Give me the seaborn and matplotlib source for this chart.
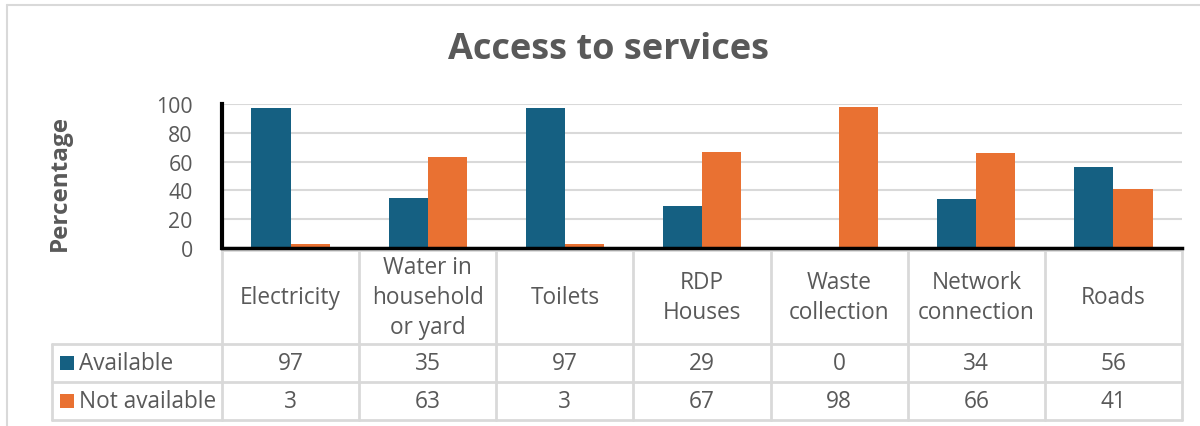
import numpy as np
import pandas as pd
import matplotlib
matplotlib.use("Agg")
import matplotlib.pyplot as plt
import seaborn as sns

# Data
services = ["Electricity", "Water in\nhousehold\nor yard", "Toilets", "RDP\nHouses",
            "Waste\ncollection", "Network\nconnection", "Roads"]
series_names = ["Available", "Not available"]
available = [97, 35, 97, 29, 0, 34, 56]
not_available = [3, 63, 3, 67, 98, 66, 41]
y_ticks = [0, 20, 40, 60, 80, 100]

BLUE = "#156082"
ORANGE = "#E97132"
TEXT = "#595959"
GRID = "#D9D9D9"
FS = 16.3

sns.set_theme(style="white")
plt.rcParams["font.family"] = ["Open Sans", "DejaVu Sans"]

W, H = 1200, 427
fig = plt.figure(figsize=(W / 100, H / 100), dpi=100)

# Full-figure overlay in pixel coordinates for the frame and data table
ov = fig.add_axes([0, 0, 1, 1], zorder=0)
ov.set_xlim(0, W)
ov.set_ylim(H, 0)
ov.axis("off")

# Plot area geometry (pixels)
px_left, px_right, px_top, px_bottom = 222, 1182, 105, 249
ax = fig.add_axes([px_left / W, 1 - px_bottom / H, (px_right - px_left) / W,
                   (px_bottom - px_top) / H], zorder=2)
ax.patch.set_alpha(0)

df = pd.DataFrame({
    "service": services * 2,
    "series": [series_names[0]] * len(services) + [series_names[1]] * len(services),
    "value": available + not_available,
})

sns.barplot(data=df, x="service", y="value", hue="series", order=services,
            hue_order=series_names, palette=[BLUE, ORANGE], width=0.57,
            saturation=1, ax=ax, legend=False, edgecolor="none")

ax.set_xlim(-0.5, len(services) - 0.5)
ax.set_ylim(0, 100)
ax.set_yticks(y_ticks)
ax.set_yticklabels([str(t) for t in y_ticks], color=TEXT, fontsize=15.3)
ax.tick_params(axis="y", length=0, pad=21)
ax.set_xticks([])
ax.set_xlabel("")
ax.set_ylabel("")
ax.yaxis.grid(True, color=GRID, linewidth=1.5)
ax.set_axisbelow(True)
for s in ["top", "right"]:
    ax.spines[s].set_visible(False)
ax.spines["left"].set_color("black")
ax.spines["left"].set_linewidth(3)
ax.spines["bottom"].set_color("black")
ax.spines["bottom"].set_linewidth(2.5)

# Title and y label
fig.text(608 / W, 1 - 50 / H, "Access to services", ha="center", va="center",
         fontsize=26, fontweight="bold", color=TEXT)
fig.text(60 / W, 1 - 183 / H, "Percentage", ha="center", va="center",
         rotation=90, fontsize=17.5, fontweight="bold", color=TEXT)

# Outer chart frame
ov.plot([7, W], [6, 6], color=GRID, lw=1.5)
ov.plot([7, 7], [6, H], color=GRID, lw=1.5)

# Data table
col_w = (px_right - px_left) / len(services)
col_edges = [px_left + i * col_w for i in range(len(services) + 1)]
head_top, row1_top, row2_top, table_bottom = 251, 345, 383, 421
leg_left = 52
lw_t = 2
ov.plot([px_left, px_right], [head_top, head_top], color=GRID, lw=lw_t)
for yy in (row1_top, row2_top, table_bottom):
    ov.plot([leg_left, px_right], [yy, yy], color=GRID, lw=lw_t)
for xx in col_edges:
    ov.plot([xx, xx], [head_top, table_bottom], color=GRID, lw=lw_t)
ov.plot([leg_left, leg_left], [row1_top, table_bottom], color=GRID, lw=lw_t)

for i, name in enumerate(services):
    cx = px_left + (i + 0.5) * col_w
    ov.text(cx, (head_top + row1_top) / 2, name, ha="center", va="center",
            fontsize=FS, color=TEXT, linespacing=1.32)
    ov.text(cx, (row1_top + row2_top) / 2, str(available[i]), ha="center",
            va="center", fontsize=FS, color=TEXT)
    ov.text(cx, (row2_top + table_bottom) / 2, str(not_available[i]), ha="center",
            va="center", fontsize=FS, color=TEXT)

for (top, bot), name, col in zip([(row1_top, row2_top), (row2_top, table_bottom)],
                                 series_names, [BLUE, ORANGE]):
    cy = (top + bot) / 2
    ov.add_patch(plt.Rectangle((60, cy - 7), 14, 14, color=col, lw=0))
    ov.text(79, cy, name, ha="left", va="center", fontsize=FS, color=TEXT)

fig.savefig("out.png", dpi=100, facecolor="white")
